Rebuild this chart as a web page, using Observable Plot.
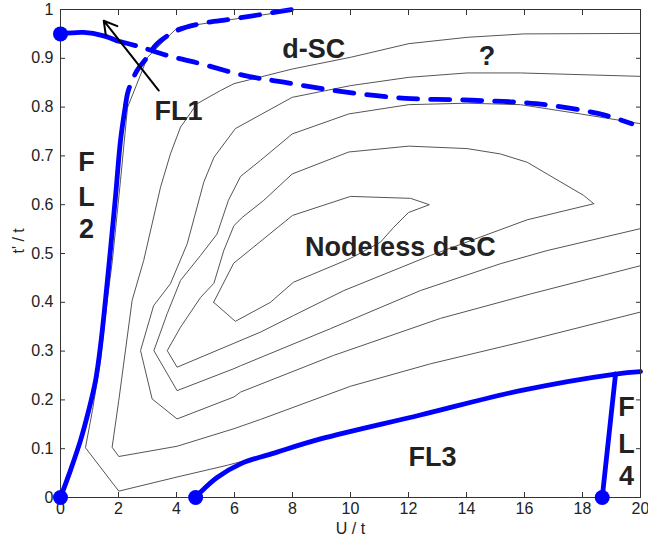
<!DOCTYPE html>
<html><head><meta charset="utf-8">
<script src="https://cdn.jsdelivr.net/npm/d3@7"></script>
<script src="https://cdn.jsdelivr.net/npm/@observablehq/plot@0.6"></script>
<style>
html,body{margin:0;padding:0;background:#fff;}
#chart{width:648px;height:543px;}
</style>
</head><body><div id="chart"></div>
<script>
// ---- axis ticks ----
const xTicks = [0, 2, 4, 6, 8, 10, 12, 14, 16, 18, 20];
const yTicks = [0, 0.1, 0.2, 0.3, 0.4, 0.5, 0.6, 0.7, 0.8, 0.9, 1];

// ---- contour lines [U/t, t'/t] ----
const contourA = [[8.0,0.998],[4.03,0.963],[3.0,0.902],[2.31,0.799],[2.07,0.650],[1.79,0.486],[1.61,0.404],[1.38,0.281],[1.10,0.178],[0.86,0.102],[2.01,0.013],[4.02,0.042],[5.75,0.066],[7.47,0.093],[8.97,0.120],[12.41,0.169],[15.86,0.219],[19.14,0.253],[20,0.258]];
const contourB = [[20,0.380],[16,0.320],[12.76,0.274],[10,0.228],[6.9,0.160],[5.98,0.141],[4.02,0.105],[2.01,0.084],[1.78,0.103],[2.01,0.199],[2.47,0.404],[2.87,0.486],[3.45,0.636],[3.79,0.704],[4.14,0.759],[4.71,0.807],[5.52,0.834],[5.98,0.848],[7.99,0.878],[10.0,0.902],[12.01,0.930],[14.02,0.943],[15.98,0.950],[20,0.951]];
const contourC = [[20,0.475],[16.2,0.417],[13.1,0.367],[9.41,0.291],[6.21,0.216],[5.98,0.206],[4.02,0.161],[3.16,0.202],[2.76,0.301],[3.21,0.393],[3.79,0.438],[4.37,0.520],[4.94,0.646],[5.29,0.697],[6.03,0.756],[7.99,0.820],[10,0.844],[12.01,0.861],[14.02,0.870],[15.86,0.870],[20,0.863]];
const contourD = [[20,0.551],[16.78,0.506],[15.17,0.479],[12.41,0.424],[9.31,0.346],[6.21,0.270],[5.98,0.264],[4.02,0.219],[3.22,0.301],[3.68,0.377],[4.14,0.445],[4.83,0.496],[5.40,0.540],[5.79,0.609],[6.21,0.658],[6.9,0.691],[7.99,0.745],[9.94,0.786],[12.01,0.805],[14.02,0.808],[15.86,0.805],[17.93,0.786],[20,0.766]];
const contourE = [[18.39,0.602],[16.09,0.569],[12.76,0.496],[9.77,0.424],[8.04,0.373],[6.9,0.339],[5.98,0.316],[4.02,0.267],[3.68,0.301],[4.14,0.349],[4.83,0.410],[5.29,0.439],[5.63,0.506],[5.98,0.557],[6.27,0.574],[7.01,0.609],[7.99,0.663],[9.94,0.708],[12.01,0.720],[14.02,0.715],[15.17,0.704],[16.09,0.687],[18.04,0.619],[18.39,0.602]];
const contourF = [[5.28,0.400],[5.97,0.480],[8.0,0.578],[10.0,0.617],[12.07,0.613],[12.72,0.600],[12.0,0.584],[11.48,0.553],[11.03,0.523],[10.0,0.490],[8.03,0.441],[7.24,0.400],[6.03,0.361],[5.28,0.400]];

// ---- phase boundaries (blue) ----
const fl2Solid  = [[0,0],[0.34,0.055],[0.69,0.117],[0.97,0.178],[1.21,0.240],[1.38,0.311],[1.55,0.404],[1.72,0.506],[1.90,0.619],[2.07,0.732],[2.24,0.803]];
const fl2Dashed = [[2.24,0.803],[2.34,0.834],[2.64,0.875],[2.99,0.902],[3.33,0.930],[4.02,0.957],[4.83,0.971],[5.98,0.981],[8.0,1.0]];
const fl1Solid  = [[0,0.95],[0.8,0.953],[1.49,0.946],[1.95,0.936]];
const fl1Dashed = [[1.95,0.936],[2.76,0.923],[3.79,0.904],[4.83,0.889],[6.32,0.865],[7.7,0.851],[9.66,0.832],[11.9,0.818],[14.2,0.814],[16.4,0.807],[18.6,0.786],[19.7,0.766]];
const fl3Line   = [[4.66,0],[4.83,0.011],[5.40,0.041],[6.21,0.069],[7.47,0.093],[8.97,0.120],[12.41,0.169],[15.86,0.219],[19.14,0.253],[20,0.258]];
const fl4Line   = [[18.68,0],[19.14,0.253]];

// ---- end points ----
const dotX = [0, 0, 4.66, 18.68];
const dotY = [0.95, 0, 0, 0];

// ---- arrow ----
const arrowFrom = [3.39, 0.834];
const arrowTo   = [1.49, 0.977];

// ---- region labels ----
const labelText = ["FL1", "d-SC", "?", "Nodeless d-SC", "FL3", "F", "L", "2", "F", "L", "4"];
const labelX    = [4.07, 8.73, 14.71, 11.72, 12.83, 0.9, 0.9, 0.9, 19.52, 19.52, 19.52];
const labelY    = [0.791, 0.918, 0.904, 0.513, 0.083, 0.687, 0.615, 0.549, 0.185, 0.109, 0.043];

const BLUE = "#0000ff";
const GRAY = "#555555";
const INK = "#222222";
const FONT = "'Liberation Sans', Arial, Helvetica, sans-serif";
const dash = "19,13";

const px = d => d[0], py = d => d[1];
const contours = [contourA, contourB, contourC, contourD, contourE, contourF];
const labels = labelText.map((t, i) => ({t, x: labelX[i], y: labelY[i]}));
const dots = dotX.map((x, i) => ({x, y: dotY[i]}));
const fmt = d => String(d);

const chart = Plot.plot({
  width: 648,
  height: 543,
  marginLeft: 60,
  marginRight: 8,
  marginTop: 9,
  marginBottom: 46,
  style: {fontFamily: FONT, background: "#fff", color: INK},
  x: {domain: [0, 20]},
  y: {domain: [0, 1]},
  marks: [
    ...contours.map(c => Plot.line(c, {x: px, y: py, stroke: GRAY, strokeWidth: 1})),
    Plot.line(fl2Solid, {x: px, y: py, stroke: BLUE, strokeWidth: 4.8, curve: "catmull-rom"}),
    Plot.line(fl2Dashed, {x: px, y: py, stroke: BLUE, strokeWidth: 4.8, strokeDasharray: dash, curve: "catmull-rom"}),
    Plot.line(fl1Solid, {x: px, y: py, stroke: BLUE, strokeWidth: 4.8, curve: "catmull-rom"}),
    Plot.line(fl1Dashed, {x: px, y: py, stroke: BLUE, strokeWidth: 4.8, strokeDasharray: dash, curve: "catmull-rom"}),
    Plot.line(fl3Line, {x: px, y: py, stroke: BLUE, strokeWidth: 4.8, curve: "catmull-rom"}),
    Plot.line(fl4Line, {x: px, y: py, stroke: BLUE, strokeWidth: 4.8}),
    Plot.arrow([{a: arrowFrom, b: arrowTo}], {x1: d => d.a[0], y1: d => d.a[1], x2: d => d.b[0], y2: d => d.b[1], stroke: "#000", strokeWidth: 2, headLength: 11}),
    Plot.frame({stroke: "#333", strokeWidth: 1}),
    // inward ticks on all four sides
    Plot.axisX(xTicks, {anchor: "bottom", tickSize: 5, dy: -5, tickFormat: () => "", label: null, stroke: "#333"}),
    Plot.axisX(xTicks, {anchor: "top", tickSize: 5, dy: 5, tickFormat: () => "", label: null, stroke: "#333"}),
    Plot.axisY(yTicks, {anchor: "left", tickSize: 5, dx: 5, tickFormat: () => "", label: null, stroke: "#333"}),
    Plot.axisY(yTicks, {anchor: "right", tickSize: 5, dx: -5, tickFormat: () => "", label: null, stroke: "#333"}),
    // tick labels
    Plot.axisX(xTicks, {anchor: "bottom", tickSize: 0, tickPadding: 5, label: null, fontSize: 16, fill: INK, tickFormat: fmt}),
    Plot.axisY(yTicks, {anchor: "left", tickSize: 0, tickPadding: 7, label: null, fontSize: 16, fill: INK, tickFormat: fmt}),
    Plot.dot(dots, {x: "x", y: "y", r: 7.5, fill: BLUE, stroke: null}),
    Plot.text(labels, {x: "x", y: "y", text: "t", fontSize: 27, fontWeight: "bold", fill: INK}),
    Plot.text(["U / t"], {frameAnchor: "bottom", dy: 36, fontSize: 16, fill: INK}),
    Plot.text(["t' / t"], {frameAnchor: "left", dx: -42, rotate: -90, fontSize: 16, fill: INK})
  ]
});
document.getElementById("chart").appendChild(chart);
</script>
</body></html>
